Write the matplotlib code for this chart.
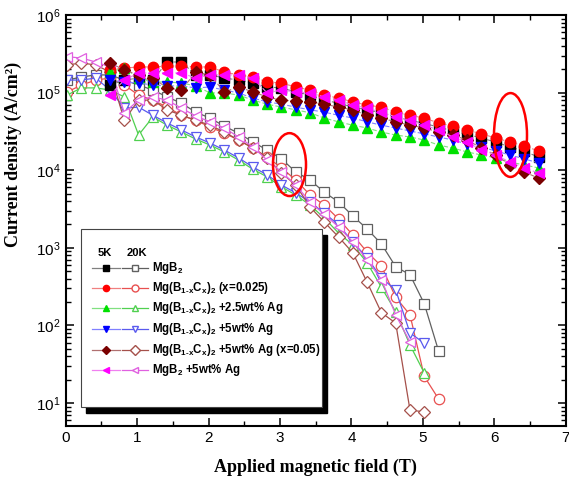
import matplotlib
matplotlib.use('Agg')
import matplotlib.pyplot as plt
from matplotlib.patches import Ellipse, Rectangle
from matplotlib.ticker import MultipleLocator, LogLocator, NullFormatter

plt.rcParams['font.family'] = ['Liberation Sans', 'DejaVu Sans']
plt.rcParams['mathtext.fontset'] = 'custom'
plt.rcParams['mathtext.rm'] = 'Liberation Sans:bold'
plt.rcParams['mathtext.bf'] = 'Liberation Sans:bold'

# field values (T)
field_5k = [0.62, 0.82, 1.02, 1.22, 1.42, 1.62, 1.82, 2.02, 2.22, 2.42, 2.62, 2.82, 3.02, 3.22, 3.42,
            3.62, 3.82, 4.02, 4.22, 4.42, 4.62, 4.82, 5.02, 5.22, 5.42, 5.62, 5.82, 6.02, 6.22, 6.42, 6.62]
field_20k = [0.02, 0.22, 0.42, 0.62, 0.82, 1.02, 1.22, 1.42, 1.62, 1.82, 2.02, 2.22, 2.42, 2.62,
             2.82, 3.02, 3.22, 3.42, 3.62, 3.82, 4.02, 4.22, 4.42, 4.62, 4.82, 5.02, 5.22]

# 5K current density (A/cm2)
mgb2_5k = [1.25e5, 1.45e5, 1.54e5, 1.45e5, 2.48e5, 2.48e5, 1.69e5, 1.69e5, 1.54e5, 1.45e5, 1.33e5,
           1.18e5, 1.15e5, 1.02e5, 9.3e4, 8.0e4, 7.3e4, 6.5e4, 6.0e4, 5.5e4, 4.85e4, 4.4e4, 4.0e4,
           3.6e4, 3.2e4, 2.9e4, 2.6e4, 2.3e4, 2.0e4, 1.75e4, 1.48e4]
c025_5k = [1.96e5, 2.07e5, 2.14e5, 2.14e5, 2.2e5, 2.2e5, 2.14e5, 2.14e5, 1.84e5, 1.69e5, 1.59e5,
           1.37e5, 1.33e5, 1.18e5, 1.08e5, 9.3e4, 8.5e4, 7.6e4, 6.9e4, 6.5e4, 5.6e4, 5.1e4, 4.7e4,
           4.06e4, 3.7e4, 3.3e4, 2.94e4, 2.6e4, 2.31e4, 2.05e4, 1.77e4]
ag25_5k = [1.84e5, 2.07e5, 1.54e5, 1.37e5, 1.37e5, 1.33e5, 1.22e5, 9.9e4, 9.9e4, 9.3e4, 8.0e4,
           7.1e4, 6.5e4, 6.0e4, 5.5e4, 4.7e4, 4.2e4, 3.8e4, 3.5e4, 3.1e4, 2.84e4, 2.68e4, 2.45e4,
           2.11e4, 1.93e4, 1.72e4, 1.57e4, 1.44e4, 1.27e4, 1.17e4, 1.07e4]
ag5_5k = [1.45e5, 1.37e5, 1.33e5, 1.25e5, 1.22e5, 1.22e5, 1.15e5, 1.18e5, 1.08e5, 9.9e4, 8.5e4,
          7.6e4, 7.1e4, 6.5e4, 6.0e4, 5.6e4, 5.1e4, 4.7e4, 4.2e4, 3.8e4, 3.5e4, 3.2e4, 2.94e4,
          2.68e4, 2.45e4, 2.17e4, 1.99e4, 1.77e4, 1.57e4, 1.40e4, 1.24e4]
c05_5k = [2.41e5, 1.96e5, 1.69e5, 1.54e5, 1.15e5, 1.08e5, 1.84e5, 1.69e5, 1.02e5, 1.18e5, 1.02e5,
          8.8e4, 8.0e4, 7.8e4, 7.6e4, 7.1e4, 6.5e4, 6.0e4, 5.1e4, 4.7e4, 4.2e4, 3.8e4, 3.5e4,
          3.1e4, 2.84e4, 2.45e4, 1.93e4, 1.57e4, 1.17e4, 9.5e3, 7.9e3]
mgb2ag_5k = [9.3e4, 1.45e5, 1.79e5, 1.79e5, 1.79e5, 1.79e5, 1.54e5, 1.69e5, 1.69e5, 1.69e5, 1.54e5,
             9.9e4, 1.08e5, 1.02e5, 9.9e4, 8.8e4, 8.0e4, 6.9e4, 6.3e4, 5.6e4, 4.85e4, 4.4e4, 3.8e4,
             3.3e4, 2.68e4, 2.31e4, 1.82e4, 1.57e4, 1.27e4, 1.07e4, 9.2e3]

# 20K current density (A/cm2)
mgb2_20k = [1.45e5, 1.59e5, 1.69e5, 1.69e5, 1.45e5, 1.25e5, 1.08e5, 8.8e4, 7.3e4, 5.6e4, 4.7e4,
            3.7e4, 3.0e4, 2.31e4, 1.82e4, 1.40e4, 9.5e3, 7.5e3, 5.2e3, 3.9e3, 2.57e3, 1.75e3,
            1.12e3, 5.7e2, 4.5e2, 1.9e2, 47]
c025_20k = [1.02e5, 1.25e5, 1.45e5, 1.54e5, 1.25e5, 9.3e4, 8.0e4, 6.5e4, 5.1e4, 4.4e4, 3.6e4,
            3.0e4, 2.45e4, 1.93e4, 1.48e4, 1.07e4, 7.5e3, 4.8e3, 3.56e3, 2.35e3, 1.46e3, 8.8e2,
            5.8e2, 2.3e2, 1.37e2, 22, 11.3]
ag25_20k = [9.3e4, 1.15e5, 1.15e5, 1.08e5, 8.8e4, 2.84e4, 4.85e4, 3.8e4, 3.1e4, 2.52e4, 2.11e4,
            1.72e4, 1.35e4, 1.03e4, 8.2e3, 6.1e3, 4.8e3, 3.56e3, 2.42e3, 1.55e3, 1.09e3, 6.4e2,
            3.1e2, 1.5e2, 56, 24.4]
ag5_20k = [1.45e5, 1.45e5, 1.54e5, 1.08e5, 6.3e4, 6.5e4, 5.1e4, 4.06e4, 3.3e4, 2.68e4, 2.24e4,
           1.82e4, 1.44e4, 1.10e4, 8.7e3, 6.45e3, 5.1e3, 3.9e3, 2.81e3, 1.97e3, 1.19e3, 7.4e2,
           4.1e2, 2.86e2, 80, 59]
c05_20k = [2.27e5, 2.41e5, 2.27e5, 1.84e5, 4.4e4, 8.0e4, 8.0e4, 6.0e4, 5.1e4, 4.4e4, 3.8e4,
           3.1e4, 2.45e4, 1.93e4, 1.44e4, 9.2e3, 6.45e3, 3.36e3, 2.15e3, 1.38e3, 8.6e2, 3.6e2,
           1.46e2, 1.07e2, 8.1, 7.7]
mgb2ag_20k = [2.9e5, 2.79e5, 2.48e5, 2.14e5, 5.5e4, 8.0e4, 8.8e4, 8.0e4, 6.3e4, 5.0e4, 4.2e4,
              3.5e4, 2.68e4, 1.99e4, 1.35e4, 9.5e3, 6.45e3, 3.9e3, 2.7e3, 1.86e3, 1.19e3, 7.0e2,
              3.9e2, 1.37e2, 61]

sub = 'B$_{\\mathbf{1}\\text{-}\\mathbf{x}}$C$_\\mathbf{x}$)$_\\mathbf{2}$'
labels = ['MgB$_\\mathbf{2}$',
          'Mg(' + sub + ' (x=0.025)',
          'Mg(' + sub + ' +2.5wt% Ag',
          'Mg(' + sub + ' +5wt% Ag',
          'Mg(' + sub + ' +5wt% Ag (x=0.05)',
          'MgB$_\\mathbf{2}$ +5wt% Ag']

# (marker, 5K colour, 5K line, 20K colour)
styles = [('s', 'black', '#808080', '#606060'),
          ('o', '#ff0000', '#f08080', '#e85050'),
          ('^', '#00e000', '#80e080', '#50d050'),
          ('v', '#0000ff', '#8080ff', '#5a5aee'),
          ('D', '#7a0000', '#b07070', '#a5504a'),
          ('<', '#ff00ff', '#f080f0', '#e060e0')]

data_5k = [mgb2_5k, c025_5k, ag25_5k, ag5_5k, c05_5k, mgb2ag_5k]
data_20k = [mgb2_20k, c025_20k, ag25_20k, ag5_20k, c05_20k, mgb2ag_20k]

fig = plt.figure(figsize=(5.69, 4.87), dpi=100)
ax = fig.add_axes([0.1155, 0.1253, 0.8787, 0.8439])

for (m, c5, l5, c20), y20 in zip(styles, data_20k):
    ms = 6.5 if m == 'D' else 7.5
    ax.plot(field_20k[:len(y20)], y20, color=c20, lw=0.9, marker=m, ms=ms,
            mfc='white', mec=c20, mew=0.9, zorder=2)

for (m, c5, l5, c20), y5 in zip(styles, data_5k):
    ms = 6.5 if m == 'D' else 7.5
    ax.plot(field_5k, y5, color=l5, lw=0.8, ls=(0, (4, 2)), marker=m, ms=ms,
            mfc=c5, mec=c5, zorder=3)

ax.set_yscale('log')
ax.set_xlim(0, 7)
ax.set_ylim(5.06, 1e6)
ax.xaxis.set_major_locator(MultipleLocator(1))
ax.xaxis.set_minor_locator(MultipleLocator(0.5))
ax.yaxis.set_major_locator(LogLocator(base=10, numticks=10))
ax.yaxis.set_minor_locator(LogLocator(base=10, subs=[2, 3, 4, 5, 6, 7, 8, 9], numticks=10))
ax.yaxis.set_minor_formatter(NullFormatter())
ax.tick_params(which='both', direction='in', top=True, right=True, labelsize=11)
ax.tick_params(which='major', length=6, width=1.1)
ax.tick_params(which='minor', length=3.5, width=1.0)
for s in ax.spines.values():
    s.set_linewidth(1.5)

ax.set_xlabel('Applied magnetic field (T)', family='Liberation Serif', weight='bold',
              fontsize=13, labelpad=10)
ax.set_ylabel('Current density (A/cm²)', family='Liberation Serif', weight='bold',
              fontsize=13)
ax.yaxis.set_label_coords(-0.088, 0.66)

# red ellipses
ax.add_patch(Ellipse((0.4476, 0.636), 0.066, 0.153, transform=ax.transAxes,
                     fill=False, ec='red', lw=1.8, zorder=5))
ax.add_patch(Ellipse((0.8896, 0.708), 0.066, 0.204, transform=ax.transAxes,
                     fill=False, ec='red', lw=1.8, zorder=5))

# legend box with shadow
ax.add_patch(Rectangle((0.0406, 0.031), 0.482, 0.4329, transform=ax.transAxes,
                       fc='black', ec='black', zorder=6))
ax.add_patch(Rectangle((0.0306, 0.0462), 0.482, 0.4331, transform=ax.transAxes,
                       fc='white', ec='#444444', lw=0.8, zorder=7))
ax.text(0.0786, 0.4209, '5K', transform=ax.transAxes, ha='center', va='center',
        weight='bold', fontsize=8, zorder=8)
ax.text(0.1426, 0.4209, '20K', transform=ax.transAxes, ha='center', va='center',
        weight='bold', fontsize=8, zorder=8)
rows = [0.3844, 0.3358, 0.2871, 0.236, 0.1849, 0.1363]
for (m, c5, l5, c20), lab, ry in zip(styles, labels, rows):
    ax.plot([0.0526, 0.1086], [ry, ry], color=l5, lw=0.9, transform=ax.transAxes, zorder=8)
    ax.plot([0.0806], [ry], marker=m, ms=4.5, color=c5, transform=ax.transAxes, zorder=8)
    ax.plot([0.1126, 0.1646], [ry, ry], color=c20, lw=0.9, transform=ax.transAxes, zorder=8)
    ax.plot([0.1386], [ry], marker=m, ms=5, mfc='white', mec=c20, transform=ax.transAxes, zorder=8)
    ax.text(0.1726, ry, lab, transform=ax.transAxes, ha='left', va='center',
            weight='bold', fontsize=8.3, zorder=8)

fig.savefig('out.png', dpi=100)
